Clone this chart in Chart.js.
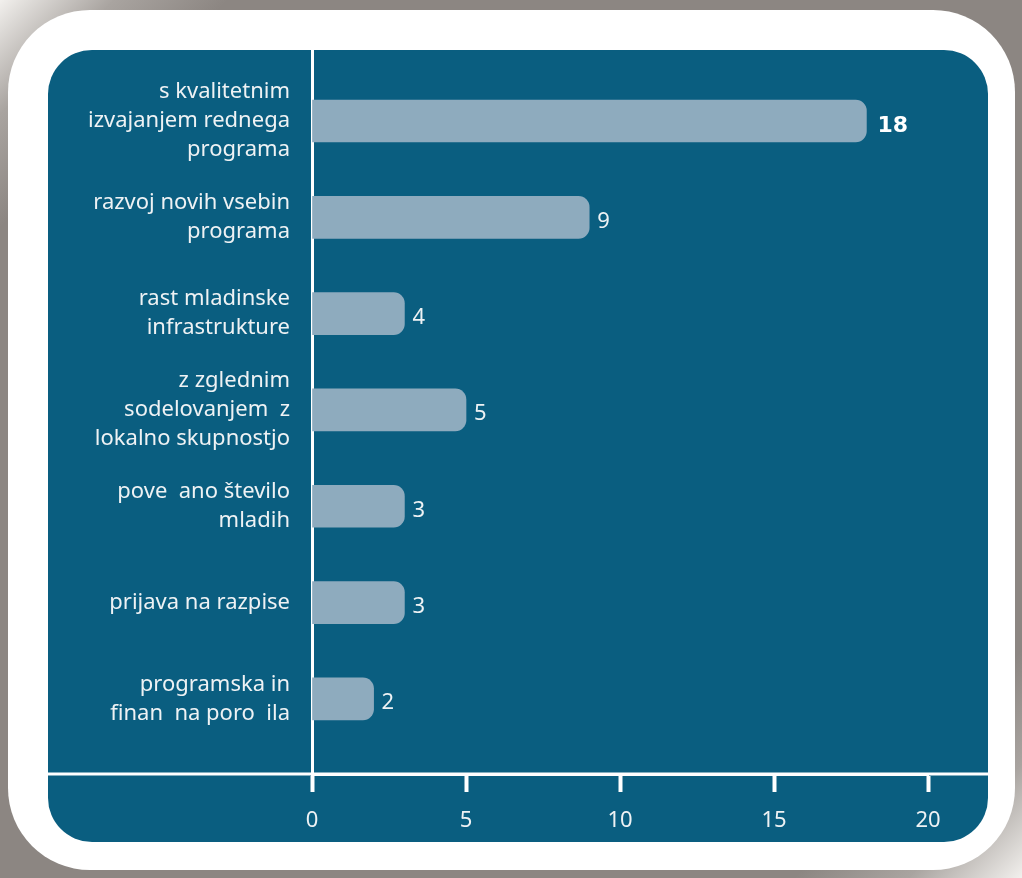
<!DOCTYPE html>
<html lang="sl">
<head>
<meta charset="utf-8">
<title>Graf</title>
<script src="https://cdn.jsdelivr.net/npm/chart.js@4/dist/chart.umd.min.js"></script>
<style>
  html, body {
    margin: 0;
    padding: 0;
    width: 1022px;
    height: 878px;
    overflow: hidden;
  }
  body {
    position: relative;
    background: linear-gradient(135deg, #f2f0ed 0%, #a9a4a0 6%, #8c8682 12%, #8c8682 88%, #a9a4a0 94%, #f2f0ed 100%);
  }
  .kartica {
    position: absolute;
    left: 8px;
    top: 10px;
    width: 1007px;
    height: 860px;
    background: #ffffff;
    border-radius: 82px;
  }
  .plosca {
    position: absolute;
    left: 48px;
    top: 50px;
    width: 940px;
    height: 792px;
    background: #0a5e80;
    border-radius: 44px;
    overflow: hidden;
  }
</style>
</head>
<body>
<div class="kartica"></div>
<div class="plosca">
  <canvas id="graf-stolpci"></canvas>
</div>
<script>
/* ===== PODATKI ===== */

const KATEGORIJE = [
  ["s kvalitetnim", "izvajanjem rednega", "programa"],
  ["razvoj novih vsebin", "programa"],
  ["rast mladinske", "infrastrukture"],
  ["z zglednim", "sodelovanjem  z", "lokalno skupnostjo"],
  ["pove  ano število", "mladih"],
  ["prijava na razpise"],
  ["programska in", "finan  na poro  ila"],
];

// dolžine stolpcev, kot so narisane (stolpec "4" je na sliki dolg 3)
const DOLZINE_STOLPCEV = [18, 9, 3, 5, 3, 3, 2];
// vrednosti, izpisane ob stolpcih
const OZNAKE_VREDNOSTI = ["18", "9", "4", "5", "3", "3", "2"];

const OS_X_MIN   = 0;
const OS_X_MAX   = 20;
const OS_X_KORAK = 5;

/* ===== BARVE IN PISAVE ===== */

const BARVA_STOLPCA = "#8eabbe";
const BARVA_BELA    = "#ffffff";
const BARVA_BESEDIL = "#eef2f4";
const PISAVA        = "'Noto Sans', 'Open Sans', sans-serif";

/* ===== VTIČNIK: VODORAVNA OS ČEZ CELO PLOŠČO ===== */

const vodoravnaOs = {
  id: "vodoravnaOs",
  afterDraw(graf) {
    const ctx = graf.ctx;
    const y = graf.chartArea.bottom;
    ctx.save();
    ctx.strokeStyle = BARVA_BELA;
    ctx.lineWidth = 3;
    ctx.beginPath();
    ctx.moveTo(0, y);
    ctx.lineTo(graf.width, y);
    ctx.stroke();
    ctx.restore();
  },
};

/* ===== VTIČNIK: OZNAKE VREDNOSTI OB STOLPCIH ===== */

const oznakeVrednosti = {
  id: "oznakeVrednosti",
  afterDatasetsDraw(graf) {
    const ctx = graf.ctx;
    const meta = graf.getDatasetMeta(0);
    ctx.save();
    ctx.textAlign = "left";
    ctx.textBaseline = "middle";
    meta.data.forEach(function(stolpec, i) {
      const najvecji = i === 0;
      ctx.fillStyle = najvecji ? BARVA_BELA : BARVA_BESEDIL;
      ctx.font = najvecji
        ? "bold 22px 'DejaVu Sans', sans-serif"
        : "22px " + PISAVA;
      ctx.fillText(OZNAKE_VREDNOSTI[i], stolpec.x + (najvecji ? 11 : 8), stolpec.y + (najvecji ? 5 : 4));
    });
    ctx.restore();
  },
};

/* ===== GRAF ===== */

function inicializirajGraf() {
  const platno = document.getElementById("graf-stolpci");

  new Chart(platno, {
    type: "bar",
    data: {
      datasets: [
        {
          data: DOLZINE_STOLPCEV.map(function(v, i) { return { x: v, y: i }; }),
          backgroundColor: BARVA_STOLPCA,
          borderWidth:     0,
          borderRadius:    11,
          barThickness:    42,
        },
      ],
    },
    options: {
      indexAxis:           "y",
      responsive:          true,
      maintainAspectRatio: false,
      animation:           false,
      layout: { padding: { top: 0, right: 60, bottom: 0, left: 0 } },
      plugins: {
        legend:  { display: false },
        tooltip: { enabled: false },
      },
      scales: {
        x: {
          type: "linear",
          min:  OS_X_MIN,
          max:  OS_X_MAX,
          grid: {
            drawOnChartArea: false,
            drawTicks:       true,
            tickLength:      18,
            tickWidth:       4,
            tickColor:       BARVA_BELA,
            color:           BARVA_BELA,
          },
          border: { color: BARVA_BELA, width: 3 },
          ticks: {
            stepSize: OS_X_KORAK,
            color:    BARVA_BESEDIL,
            padding:  16,
            font:     { family: PISAVA, size: 22 },
          },
          afterFit: function(os) {
            os.height = 68;
            os.paddingLeft = 0;
            os.paddingRight = 0;
          },
        },
        y: {
          type:    "linear",
          reverse: true,
          offset:  false,
          bounds:  "data",
          min:     -0.737,
          max:     6.78,
          grid:    { display: false, offset: false },
          border:  { color: BARVA_BELA, width: 3 },
          afterBuildTicks: function(os) {
            os.ticks = KATEGORIJE.map(function(_, i) { return { value: i }; });
          },
          ticks: {
            color:   BARVA_BESEDIL,
            padding: 14,
            font:    { family: PISAVA, size: 22, lineHeight: 1.32 },
            callback: function(vrednost) {
              return KATEGORIJE[vrednost];
            },
          },
          afterFit: function(os) {
            os.width = 264;
            os.paddingTop = 0;
            os.paddingBottom = 0;
          },
        },
      },
    },
    plugins: [vodoravnaOs, oznakeVrednosti],
  });
}

document.addEventListener("DOMContentLoaded", inicializirajGraf);
</script>
</body>
</html>
